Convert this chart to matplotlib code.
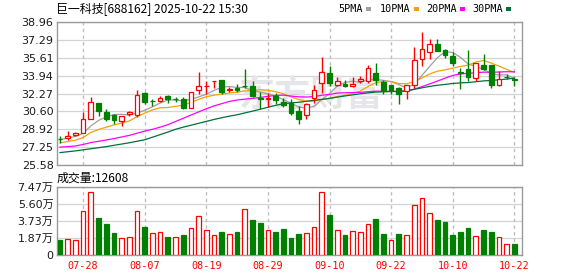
import numpy as np
import matplotlib
matplotlib.use('Agg')
import matplotlib.pyplot as plt
from matplotlib.patches import Rectangle

# trading days shown (07-23 .. 10-22)
dates = ['07-23', '07-24', '07-25', '07-28', '07-29', '07-30', '07-31', '08-01',
         '08-04', '08-05', '08-06', '08-07', '08-08', '08-11', '08-12', '08-13',
         '08-14', '08-15', '08-18', '08-19', '08-20', '08-21', '08-22', '08-25',
         '08-26', '08-27', '08-28', '08-29', '09-01', '09-02', '09-03', '09-04',
         '09-05', '09-08', '09-09', '09-10', '09-11', '09-12', '09-15', '09-16',
         '09-17', '09-18', '09-19', '09-22', '09-23', '09-24', '09-25', '09-26',
         '09-29', '09-30', '10-09', '10-10', '10-13', '10-14', '10-15', '10-16',
         '10-17', '10-20', '10-21', '10-22']

opens = [28.02, 28.10, 28.38, 28.57, 29.90, 31.40, 30.50, 30.22, 29.70, 30.38,
         30.25, 32.35, 31.60, 31.56, 32.08, 31.78, 31.75, 30.92, 32.60, 32.93,
         33.42, 33.55, 32.62, 32.80, 33.00, 33.00, 31.85, 31.78, 32.00, 31.50,
         31.40, 30.65, 30.25, 31.85, 33.24, 34.22, 33.08, 33.12, 32.95, 33.40,
         33.40, 34.17, 33.35, 33.02, 32.78, 32.50, 33.02, 35.50, 36.15, 36.90,
         36.32, 35.80, 34.25, 34.55, 33.68, 34.95, 34.92, 33.02, 33.82, 33.58]
highs = [28.30, 28.80, 28.63, 30.55, 31.96, 31.42, 30.82, 30.37, 30.20, 30.65,
         32.60, 32.40, 31.78, 32.08, 32.10, 31.92, 31.90, 32.42, 34.28, 33.45,
         33.48, 33.55, 32.85, 33.18, 34.60, 33.45, 32.38, 32.35, 32.35, 31.85,
         31.75, 31.10, 31.42, 33.08, 35.72, 34.88, 33.77, 33.50, 33.80, 33.88,
         34.90, 35.12, 33.55, 33.08, 32.90, 33.08, 36.62, 38.00, 37.36, 37.38,
         36.45, 36.12, 34.70, 36.30, 35.12, 36.00, 34.95, 34.42, 34.12, 33.86]
lows = [27.60, 27.90, 28.30, 28.55, 29.85, 30.12, 29.70, 29.45, 29.25, 30.15,
        30.10, 31.28, 31.10, 31.45, 31.38, 31.45, 30.80, 30.90, 32.25, 32.25,
        32.78, 32.25, 32.45, 32.40, 32.83, 31.90, 30.82, 31.00, 31.30, 31.05,
        30.30, 29.45, 29.85, 31.37, 32.28, 33.00, 33.00, 32.92, 32.90, 33.25,
        33.28, 33.05, 32.22, 32.25, 31.25, 31.80, 32.80, 34.80, 35.50, 36.20,
        35.58, 34.85, 32.68, 33.40, 33.40, 34.50, 32.78, 33.00, 33.62, 33.00]
closes = [28.00, 28.25, 28.53, 29.88, 31.47, 30.60, 29.88, 29.75, 30.18, 30.50,
          32.10, 31.45, 31.55, 31.86, 31.72, 31.73, 30.92, 32.40, 32.98, 32.98,
          33.48, 32.45, 32.70, 32.58, 32.95, 32.00, 31.80, 31.82, 31.68, 31.15,
          30.45, 29.90, 31.30, 32.60, 34.27, 33.25, 33.45, 32.95, 33.18, 33.62,
          34.63, 33.50, 32.55, 32.62, 32.20, 33.05, 35.42, 36.45, 36.88, 36.26,
          35.87, 35.08, 34.20, 33.80, 35.10, 34.52, 33.02, 33.62, 33.78, 33.52]
prev_close = 28.15  # close of the day before the first bar (volume colour)

ma5 = [27.95, 28.10, 28.25, 28.55, 29.23, 29.75, 30.07, 30.30, 30.32, 30.25,
       30.45, 30.70, 31.02, 31.38, 31.66, 31.66, 31.56, 31.73, 31.95, 32.20,
       32.55, 32.86, 32.92, 32.84, 32.83, 32.54, 32.41, 32.23, 32.05, 31.69,
       31.38, 31.00, 30.90, 31.08, 31.70, 32.26, 32.97, 33.30, 33.42, 33.29,
       33.57, 33.58, 33.50, 33.38, 33.10, 32.78, 33.17, 33.95, 34.80, 35.61,
       36.18, 36.11, 35.66, 35.04, 34.81, 34.54, 34.13, 34.01, 34.01, 33.69]
ma10 = [27.65, 27.78, 27.90, 28.15, 28.62, 28.90, 29.12, 29.32, 29.50, 29.70,
        30.11, 30.43, 30.74, 30.93, 30.96, 31.07, 31.18, 31.44, 31.72, 31.97,
        32.11, 32.21, 32.32, 32.39, 32.52, 32.54, 32.63, 32.57, 32.44, 32.26,
        31.96, 31.70, 31.56, 31.57, 31.70, 31.82, 31.99, 32.10, 32.25, 32.50,
        32.92, 33.28, 33.40, 33.40, 33.20, 33.18, 33.37, 33.72, 34.09, 34.36,
        34.48, 34.64, 34.80, 34.92, 35.21, 35.36, 35.12, 34.84, 34.53, 34.25]
ma20 = [27.25, 27.30, 27.36, 27.50, 27.68, 27.80, 27.92, 28.05, 28.20, 28.35,
        28.55, 28.75, 28.92, 29.12, 29.35, 29.65, 29.95, 30.25, 30.55, 30.84,
        31.11, 31.32, 31.53, 31.66, 31.74, 31.81, 31.90, 32.01, 32.08, 32.12,
        32.03, 31.96, 31.94, 31.98, 32.11, 32.18, 32.31, 32.34, 32.35, 32.38,
        32.44, 32.49, 32.48, 32.48, 32.45, 32.50, 32.68, 32.91, 33.17, 33.43,
        33.70, 33.96, 34.10, 34.16, 34.20, 34.27, 34.25, 34.28, 34.31, 34.30]
ma30 = [26.74, 26.82, 26.90, 27.00, 27.10, 27.20, 27.30, 27.42, 27.54, 27.66,
        27.80, 27.94, 28.18, 28.42, 28.66, 28.92, 29.12, 29.30, 29.48, 29.66,
        29.84, 30.00, 30.15, 30.28, 30.45, 30.62, 30.80, 30.98, 31.16, 31.31,
        31.39, 31.45, 31.54, 31.63, 31.72, 31.81, 31.93, 32.04, 32.14, 32.24,
        32.33, 32.40, 32.43, 32.45, 32.47, 32.51, 32.66, 32.80, 32.93, 33.04,
        33.12, 33.21, 33.26, 33.30, 33.37, 33.45, 33.49, 33.55, 33.62, 33.70]

# volume in 万 (10k shares)
volumes = [1.64, 1.71, 1.60, 4.81, 6.89, 4.05, 3.39, 2.41, 1.86, 1.97,
           4.78, 3.06, 2.37, 2.48, 1.97, 1.97, 2.19, 2.92, 4.23, 2.70,
           2.15, 2.52, 2.26, 2.52, 5.03, 3.83, 3.50, 2.70, 2.52, 2.84,
           1.86, 2.30, 2.37, 3.06, 6.96, 4.37, 2.70, 2.19, 2.59, 2.48,
           3.46, 3.94, 2.30, 1.60, 2.30, 2.15, 5.54, 6.31, 4.56, 3.83,
           3.61, 2.19, 2.52, 2.95, 2.04, 2.73, 2.52, 1.97, 1.17, 1.26]

price_labels = ['25.58', '27.25', '28.92', '30.60', '32.27', '33.94', '35.61', '37.29', '38.96']
vol_labels = ['0', '1.87万', '3.73万', '5.60万', '7.47万']
title = '巨一科技[688162] 2025-10-22 15:30'
last_vol = 12608
ma_names = ['5PMA', '10PMA', '20PMA', '30PMA']

RED = '#ff0000'
GREEN = '#008000'
MA_COLORS = ['#a0a0a0', '#f0a30a', '#ff00ff', '#00703c']
FRAME = '#9a9a9a'
GRID = '#d4d4d4'

W, H = 578, 276
fig = plt.figure(figsize=(W / 100, H / 100), dpi=100)


def px_axes(l, t, r, b):
    return fig.add_axes([l / W, 1 - b / H, (r - l) / W, (b - t) / H])


ax = px_axes(57, 22, 522, 165)
axv = px_axes(57, 187, 522, 255)

o = np.array(opens)
c = np.array(closes)
hi = np.array(highs)
lo = np.array(lows)
x = np.arange(len(c))
up = c >= o
tick_idx = x[3::8]

for a in (ax, axv):
    a.set_xlim(-0.39, 60.0)
    a.set_xticks(tick_idx)
    a.grid(axis='y', color=GRID, linestyle='-', linewidth=0.9)
    a.set_axisbelow(True)
    for s in a.spines.values():
        s.set_color(FRAME)
        s.set_linewidth(1.0)
    a.tick_params(length=0, pad=2.5, labelsize=8, labelcolor='#1a1a1a')
    # dashed date lines, above the grid, under the marks
    a.vlines(tick_idx, 0, 1, transform=a.get_xaxis_transform(),
             colors='#bdbdbd', linestyles=(0, (2.4, 2.4)), linewidth=1.0, zorder=1.5)

# candles: full wick first, body on top (white body hides the wick for up days)
wick_cols = [RED if u else GREEN for u in up]
ax.vlines(x, lo, hi, colors=wick_cols, linewidth=1.0, zorder=3)
body_h = np.maximum(np.abs(c - o), 0.03)
ax.bar(x, body_h, bottom=np.minimum(o, c), width=0.62,
       color=['white' if u else GREEN for u in up],
       edgecolor=wick_cols, linewidth=0.9, zorder=4)

for vals, col in zip([ma5, ma10, ma20, ma30], MA_COLORS):
    ax.plot(x, vals, color=col, linewidth=0.9, zorder=2)

# volume, coloured by close vs previous close
prev = np.concatenate([[prev_close], c[:-1]])
vup = c >= prev
vcols = [RED if u else GREEN for u in vup]
axv.bar(x, volumes, width=0.6, color=['white' if u else GREEN for u in vup],
        edgecolor=vcols, linewidth=0.9, zorder=3)

ax.set_ylim(25.58, 38.96)
ax.set_yticks(np.linspace(25.58, 38.96, len(price_labels)))
ax.set_yticklabels(price_labels)
ax.set_xticklabels([])

axv.set_ylim(0, 7.47)
axv.set_yticks(np.linspace(0, 7.47, len(vol_labels)))
axv.set_yticklabels(vol_labels, family=['DejaVu Sans', 'Noto Sans CJK SC'])
axv.set_xticklabels([dates[i] for i in tick_idx], family='DejaVu Sans Mono',
                    fontsize=7.3, color=RED)
axv.tick_params(axis='x', pad=4)

# watermark
ax.text(311 / W, 1 - 95 / H, '东方财富', transform=fig.transFigure,
        fontsize=26, fontweight='bold', color='#e6e6ea', ha='center', va='center',
        family=['Noto Sans CJK SC'], zorder=1)

# header
fig.text(56 / W, 1 - 8.5 / H, title, fontsize=8.6, ha='left', va='center',
         family=['Noto Sans CJK SC', 'DejaVu Sans'])
fig.text(57 / W, 1 - 178 / H, '成交量:' + str(last_vol), fontsize=8.6, ha='left', va='center',
         family=['Noto Sans CJK SC', 'DejaVu Sans'])

# MA legend
lx = [338, 380, 426, 472]
for name, col, px in zip(ma_names, MA_COLORS, lx):
    fig.text(px / W, 1 - 8.5 / H, name, fontsize=7.3, ha='left', va='center',
             family='DejaVu Sans Mono')
    sx = px + 6 * len(name) + 4
    fig.add_artist(Rectangle((sx / W, 1 - 10.5 / H), 5 / W, 4 / H,
                             transform=fig.transFigure, color=col, lw=0))

fig.savefig('out.png', dpi=100)
